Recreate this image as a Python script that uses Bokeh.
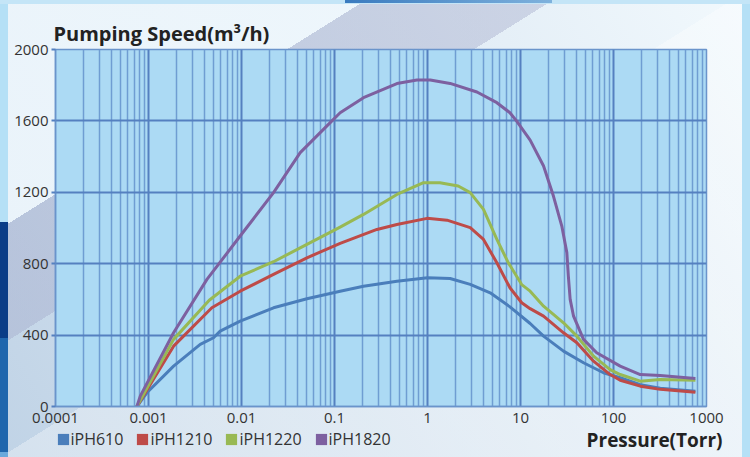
from bokeh.plotting import figure
from bokeh.models import (FixedTicker, Legend, LegendItem, Label, ColumnDataSource, Column)
from bokeh.embed import file_html
from bokeh.resources import INLINE

# ---------------- data ----------------
series_names = ["iPH610", "iPH1210", "iPH1220", "iPH1820"]
series_colors = ["#4a7ebb", "#be4b48", "#98b954", "#7d60a0"]

iph610_p = [0.00075, 0.00096, 0.00186, 0.0036, 0.005, 0.0059, 0.00968, 0.0221, 0.0505,
            0.115, 0.205, 0.469, 1.0, 1.75, 2.88, 4.72, 7.7, 12.7, 17.7, 29, 47.6, 78,
            118, 194, 318, 760]
iph610_s = [0, 77, 226, 348, 385, 422, 478, 553, 604,
            646, 674, 702, 721, 717, 684, 637, 558, 465, 394, 310, 245, 189,
            161, 122, 102, 86]

iph1210_p = [0.00075, 0.00186, 0.0048, 0.00968, 0.0221, 0.0505, 0.115, 0.286, 0.469,
             0.99, 1.62, 2.88, 4.0, 5.57, 7.7, 10.3, 12.7, 17.7, 29, 40.4, 61, 92,
             118, 194, 318, 760]
iph1210_s = [0, 338, 553, 646, 740, 833, 914, 992, 1020,
             1054, 1044, 1002, 936, 805, 665, 581, 548, 506, 413, 357, 254, 179,
             147, 114, 96, 80]

iph1220_p = [0.00075, 0.00186, 0.0045, 0.00968, 0.0221, 0.0505, 0.115, 0.205, 0.469,
             0.906, 1.36, 2.14, 2.88, 4.0, 5.57, 7.4, 10.3, 12.7, 17.7, 29, 40.4, 61,
             92, 118, 194, 318, 760]
iph1220_s = [0, 376, 595, 730, 811, 908, 1005, 1076, 1188,
             1254, 1254, 1235, 1198, 1104, 936, 805, 683, 646, 562, 469, 394, 282,
             207, 179, 142, 151, 147]

iph1820_p = [0.00075, 0.000815, 0.00186, 0.00425, 0.00968, 0.0221, 0.0428, 0.0899, 0.115,
             0.205, 0.469, 0.77, 1.07, 1.75, 3.4, 5.57, 7.7, 9.1, 12.7, 17.7, 22.6,
             27.8, 31.5, 32.7, 34.2, 37.2, 47.6, 66, 118, 194, 318, 760]
iph1820_s = [0, 58, 413, 712, 955, 1198, 1422, 1590, 1646,
             1730, 1809, 1829, 1829, 1810, 1762, 1702, 1646, 1599, 1492, 1347, 1179,
             1011, 862, 730, 600, 506, 376, 301, 226, 179, 174, 157]

x_ticks = [0.0001, 0.001, 0.01, 0.1, 1, 10, 100, 1000]
x_tick_labels = ["0.0001", "0.001", "0.01", "0.1", "1", "10", "100", "1000"]
y_ticks = [0, 400, 800, 1200, 1600, 2000]

title_text = "Pumping Speed(m\u00b3/h)"
x_title_text = "Pressure(Torr)"

FONT = "Open Sans"
TEXT = "#333333"
GRID_MAJOR = "#5580c0"
GRID_MINOR = "#6f9dd2"
FRAME_FILL = "#acdaf4"

H1 = 426          # main chart height
W, H2 = 750, 31   # legend strip

# ---------------- main figure ----------------
p = figure(width=W, height=H1, x_axis_type="log",
           x_range=(x_ticks[0], x_ticks[-1]), y_range=(y_ticks[0], y_ticks[-1]),
           output_backend="svg", toolbar_location=None,
           min_border_left=55, min_border_right=44, min_border_top=49, min_border_bottom=20)

p.border_fill_color = None
p.background_fill_color = FRAME_FILL
p.outline_line_color = "#6a94cb"
p.outline_line_width = 1.5

minor = []
for d in x_ticks[:-1]:
    for k in range(2, 10):
        minor.append(d * k)
xticker = FixedTicker(ticks=x_ticks, minor_ticks=minor)
p.xaxis.ticker = xticker
p.xaxis.major_label_overrides = {t: l for t, l in zip(x_ticks, x_tick_labels)}
p.yaxis.ticker = FixedTicker(ticks=y_ticks, minor_ticks=[])

p.xgrid.ticker = xticker
p.xgrid.grid_line_color = GRID_MAJOR
p.xgrid.grid_line_width = 2
p.xgrid.minor_grid_line_color = GRID_MINOR
p.xgrid.minor_grid_line_width = 1.5
p.ygrid.grid_line_color = GRID_MAJOR
p.ygrid.grid_line_width = 2

for ax in (p.xaxis[0], p.yaxis[0]):
    ax.axis_line_color = "#6a94cb"
    ax.axis_line_width = 1.5
    ax.major_label_text_font = FONT
    ax.major_label_text_font_size = "15px"
    ax.major_label_text_color = TEXT
    ax.minor_tick_line_color = None
p.xaxis.major_tick_line_color = None
p.xaxis.major_label_standoff = 0
p.yaxis.major_tick_line_color = GRID_MAJOR
p.yaxis.major_tick_line_width = 2
p.yaxis.major_tick_out = 4
p.yaxis.major_tick_in = 0
p.yaxis.major_label_standoff = 3

p.title.text = title_text
p.title.text_font = FONT
p.title.text_font_style = "bold"
p.title.text_font_size = "20px"
p.title.text_color = "#222222"
p.title.align = "left"
p.title.offset = -2
p.title.standoff = 5

data = [(iph610_p, iph610_s), (iph1210_p, iph1210_s), (iph1220_p, iph1220_s), (iph1820_p, iph1820_s)]
for name, col, (xs, ys) in zip(series_names, series_colors, data):
    src = ColumnDataSource(dict(x=xs, y=ys))
    p.line("x", "y", source=src, line_color=col, line_width=3, line_join="round",
           name=name)

# ---------------- bottom strip: legend + x title ----------------
b = figure(width=W, height=H2, x_range=(0, W), y_range=(0, H2),
           output_backend="svg", toolbar_location=None,
           x_axis_location=None, y_axis_location=None,
           min_border=0, min_border_left=0, min_border_right=0,
           min_border_top=0, min_border_bottom=0)
b.grid.visible = False
b.border_fill_color = None
b.background_fill_color = None
b.outline_line_color = None

for fig in (p, b):
    try:
        fig.frame_align = False
    except Exception:
        pass

items = []
for name, col in zip(series_names, series_colors):
    # legend swatch renderer: one quad placed far outside the visible strip
    dummy = b.quad(left=[-1000], right=[-999], bottom=[-1000], top=[-999],
                   fill_color=col, line_color=None)
    items.append(LegendItem(label=name, renderers=[dummy]))

legend = Legend(items=items, orientation="horizontal", location=(55.5, 7),
                background_fill_alpha=0, border_line_color=None,
                label_text_font=FONT, label_text_font_size="16px", label_text_color=TEXT,
                glyph_width=14, glyph_height=14, label_standoff=1, spacing=12,
                padding=0, margin=0)
b.add_layout(legend, "center")

b.add_layout(Label(x=722, y=18, text=x_title_text,
                   text_font=FONT, text_font_style="bold", text_font_size="19px",
                   text_color="#222222", text_align="right", text_baseline="middle"))

# ---------------- page background (decorative bands) ----------------
bg = ", ".join([
    "linear-gradient(to right, #3a7bbf, #7fb2dd) 345px 0px / 207px 3px no-repeat",
    "linear-gradient(#c4e5f7, #c4e5f7) 0px 0px / 750px 4px no-repeat",
    "linear-gradient(to bottom, #b5e0f6 0px, #b5e0f6 222px, #0b3d87 222px, #0b3d87 338px, "
    "#1f66ad 338px, #1f66ad 452px, #6aa9dc 452px) 0px 0px / 8px 457px no-repeat",
    "linear-gradient(#b5e0f6, #b5e0f6) 742px 0px / 8px 457px no-repeat",
    "linear-gradient(148deg, rgba(240,248,253,0.85) 0px, rgba(240,248,253,0.85) 194px, "
    "rgba(161,167,200,0.4) 194px, rgba(161,167,200,0.4) 293px, rgba(255,255,255,0) 293px, "
    "rgba(255,255,255,0) 388px, rgba(255,255,255,0.33) 388px, rgba(255,255,255,0.33) 100%) "
    "0px 0px / 750px 457px no-repeat",
    "linear-gradient(58deg, #c0d3e6, #f2f9fd) 0px 0px / 750px 457px no-repeat",
])

layout = Column(children=[p, b], spacing=0,
                styles={"background": bg, "width": "750px", "height": "457px"})

open("out.html", "w").write(file_html(layout, INLINE))
